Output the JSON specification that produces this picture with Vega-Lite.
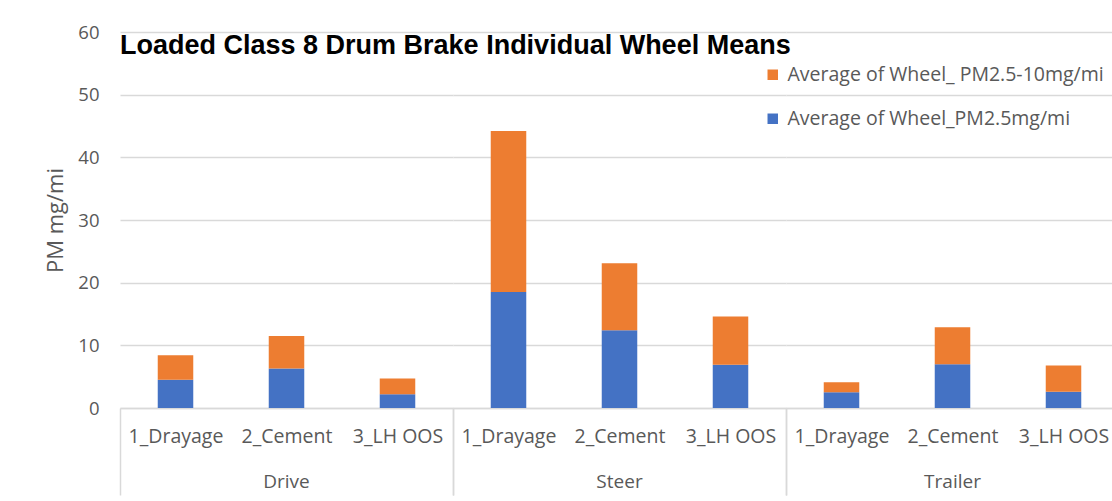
{
  "$schema": "https://vega.github.io/schema/vega-lite/v6.json",
  "background": "white",
  "padding": {"left": 44, "top": 23, "right": 0, "bottom": 0},
  "title": {
    "text": "Loaded Class 8 Drum Brake Individual Wheel Means",
    "anchor": "start",
    "frame": "group",
    "offset": -37,
    "font": "Liberation Sans",
    "fontSize": 27,
    "fontWeight": "bold",
    "color": "black"
  },
  "data": {
    "values": [
      {"group": "Drive", "category": "1_Drayage", "series": "Average of Wheel_PM2.5mg/mi", "value": 4.5},
      {"group": "Drive", "category": "1_Drayage", "series": "Average of Wheel_ PM2.5-10mg/mi", "value": 3.9},
      {"group": "Drive", "category": "2_Cement", "series": "Average of Wheel_PM2.5mg/mi", "value": 6.3},
      {"group": "Drive", "category": "2_Cement", "series": "Average of Wheel_ PM2.5-10mg/mi", "value": 5.2},
      {"group": "Drive", "category": "3_LH OOS", "series": "Average of Wheel_PM2.5mg/mi", "value": 2.2},
      {"group": "Drive", "category": "3_LH OOS", "series": "Average of Wheel_ PM2.5-10mg/mi", "value": 2.5},
      {"group": "Steer", "category": "1_Drayage", "series": "Average of Wheel_PM2.5mg/mi", "value": 18.5},
      {"group": "Steer", "category": "1_Drayage", "series": "Average of Wheel_ PM2.5-10mg/mi", "value": 25.7},
      {"group": "Steer", "category": "2_Cement", "series": "Average of Wheel_PM2.5mg/mi", "value": 12.4},
      {"group": "Steer", "category": "2_Cement", "series": "Average of Wheel_ PM2.5-10mg/mi", "value": 10.7},
      {"group": "Steer", "category": "3_LH OOS", "series": "Average of Wheel_PM2.5mg/mi", "value": 6.9},
      {"group": "Steer", "category": "3_LH OOS", "series": "Average of Wheel_ PM2.5-10mg/mi", "value": 7.7},
      {"group": "Trailer", "category": "1_Drayage", "series": "Average of Wheel_PM2.5mg/mi", "value": 2.5},
      {"group": "Trailer", "category": "1_Drayage", "series": "Average of Wheel_ PM2.5-10mg/mi", "value": 1.6},
      {"group": "Trailer", "category": "2_Cement", "series": "Average of Wheel_PM2.5mg/mi", "value": 7.0},
      {"group": "Trailer", "category": "2_Cement", "series": "Average of Wheel_ PM2.5-10mg/mi", "value": 5.9},
      {"group": "Trailer", "category": "3_LH OOS", "series": "Average of Wheel_PM2.5mg/mi", "value": 2.6},
      {"group": "Trailer", "category": "3_LH OOS", "series": "Average of Wheel_ PM2.5-10mg/mi", "value": 4.2}
    ]
  },
  "spacing": 0,
  "facet": {
    "column": {
      "field": "group",
      "type": "nominal",
      "header": {
        "title": null,
        "labelOrient": "bottom",
        "labelFont": "Open Sans",
        "labelFontSize": 19,
        "labelColor": "#595959",
        "labelPadding": -23
      }
    }
  },
  "spec": {
    "width": 333,
    "height": 376,
    "mark": {"type": "bar", "width": {"band": 0.32}},
    "encoding": {
      "x": {
        "field": "category",
        "type": "nominal",
        "title": null,
        "scale": {"paddingInner": 0, "paddingOuter": 0},
        "axis": {
          "labelAngle": 0,
          "labelFont": "Open Sans",
          "labelFontSize": 19.5,
          "labelColor": "#595959",
          "domainColor": "#d9d9d9",
          "domainWidth": 1.5,
          "tickBand": "extent",
          "tickSize": 87,
          "tickWidth": 1.5,
          "tickColor": {"condition": {"test": "datum.value === '3_LH OOS' || datum.index < 0", "value": "#d9d9d9"}, "value": "transparent"},
          "labelPadding": -68,
          "grid": false
        }
      },
      "y": {
        "field": "value",
        "type": "quantitative",
        "stack": "zero",
        "scale": {"domain": [0, 60]},
        "axis": {
          "values": [0, 10, 20, 30, 40, 50, 60],
          "title": "PM mg/mi",
          "titleFont": "Open Sans",
          "titleFontSize": 22,
          "titleFontWeight": "normal",
          "titleColor": "#595959",
          "titlePadding": 10,
          "labelFont": "Open Sans",
          "labelFontSize": 18.5,
          "labelColor": "#595959",
          "labelPadding": 21,
          "domain": false,
          "ticks": false,
          "grid": true,
          "gridColor": "#d9d9d9",
          "gridWidth": 1.5
        }
      },
      "color": {
        "field": "series",
        "type": "nominal",
        "scale": {
          "domain": ["Average of Wheel_ PM2.5-10mg/mi", "Average of Wheel_PM2.5mg/mi"],
          "range": ["#ED7D31", "#4472C4"]
        },
        "legend": {
          "title": null,
          "orient": "none",
          "legendX": 643,
          "legendY": 33,
          "padding": 0,
          "symbolType": "square",
          "symbolSize": 110,
          "symbolStrokeWidth": 0,
          "labelFont": "Open Sans",
          "labelFontSize": 19.5,
          "labelColor": "#595959",
          "labelOffset": 5,
          "labelLimit": 0,
          "rowPadding": 23
        }
      },
      "order": {"field": "series", "sort": "descending"}
    }
  },
  "config": {
    "view": {"stroke": null}
  }
}
